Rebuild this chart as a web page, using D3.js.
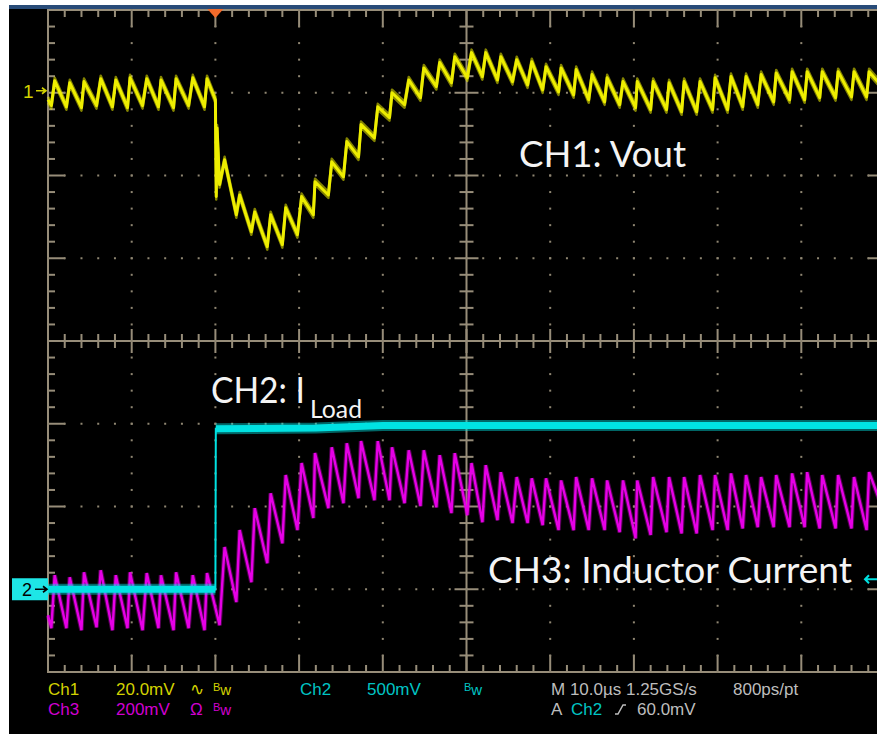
<!DOCTYPE html>
<html>
<head>
<meta charset="utf-8">
<script src="https://cdn.jsdelivr.net/npm/d3@7"></script>
<style>
  body { margin: 0; background: #fff; }
  svg { display: block; }
</style>
</head>
<body>
<svg id="scope"></svg>
<script>
// ---- data (time in us, values in mV) ----
var ch1Points = [
  [-20.0,-1.7],[-19.6,-3.1],[-19.2,2.9],[-17.8,-3.4],[-17.4,2.4],[-16.0,-3.6],[-15.7,2.7],[-14.2,-3.1],
  [-13.7,3.4],[-12.3,-3.4],[-11.9,3.1],[-10.5,-3.6],[-10.2,3.6],[-8.7,-3.1],[-8.2,3.4],[-6.8,-3.4],
  [-6.5,3.1],[-5.0,-3.6],[-4.7,3.4],[-3.2,-3.1],[-2.7,3.6],[-1.3,-3.4],[-1.0,3.4],
  [0.0,-1.7],[0.1,-25.1],[0.2,-8.5],[0.5,-22.2],[1.1,-16.2],[2.5,-29.5],[2.9,-24.7],[4.3,-33.6],
  [4.7,-28.8],[6.2,-37.2],[6.6,-29.5],[8.0,-36.7],[8.4,-27.8],[9.8,-34.3],[10.3,-25.1],[11.7,-29.5],
  [11.9,-21.5],[13.5,-24.7],[13.9,-16.7],[15.3,-20.3],[15.7,-11.8],[17.1,-15.5],[17.4,-7.7],[19.0,-10.9],
  [19.4,-3.4],[20.8,-6.0],[21.1,0.0],[22.6,-2.9],[23.1,3.1],[24.5,-1.2],[24.9,6.0],[26.4,1.5],
  [26.8,7.3],[28.2,2.4],[28.6,8.7],[30.1,3.6],[30.6,9.7],[31.9,3.9],[32.3,9.7],[33.7,3.1],
  [34.1,8.7],[35.5,2.7],[36.0,8.0],[37.3,1.9],[37.8,7.5],[39.1,0.7],[39.5,6.3],[41.0,0.2],
  [41.3,6.0],[42.8,-0.5],[43.1,5.6],[44.6,-1.7],[45.0,4.4],[46.5,-2.2],[46.8,3.6],[48.3,-2.9],
  [48.7,2.7],[50.2,-3.6],[50.4,2.7],[52.0,-4.1],[52.3,2.7],[53.9,-4.1],[54.2,2.4],[55.7,-4.6],
  [56.0,2.7],[57.5,-4.6],[57.9,2.7],[59.4,-4.1],[59.7,3.6],[61.2,-4.1],[61.6,3.9],[63.0,-3.4],
  [63.4,3.9],[64.8,-2.9],[65.2,4.4],[66.7,-2.2],[67.0,4.8],[68.6,-1.7],[68.9,5.1],[70.4,-1.7],
  [70.7,5.1],[72.2,-1.2],[72.5,5.1],[74.1,-1.2],[74.4,5.1],[76.0,-1.0],[76.3,5.1],[77.8,-1.0],
  [78.1,5.1],[80.0,0.7]
];

var ch2Points = [[-20, 0], [0, 0], [0.05, 970], [12, 975], [20, 990], [80, 990]];

var ch3Points = [
  [-20.0,-63],[-19.6,-94],[-19.2,34],[-17.8,-94],[-17.4,29],[-16.0,-99],[-15.7,41],[-14.2,-92],
  [-13.7,46],[-12.3,-99],[-11.9,34],[-10.5,-94],[-10.2,41],[-8.7,-99],[-8.2,39],[-6.8,-94],
  [-6.5,34],[-5.0,-99],[-4.7,41],[-3.2,-94],[-2.7,34],[-1.3,-99],[-1.0,39],[0.5,-87],
  [1.1,102],[2.5,-31],[2.9,143],[4.3,17],[4.7,196],[6.2,63],[6.6,232],[8.0,111],
  [8.4,276],[9.8,143],[10.3,305],[11.7,172],[11.9,329],[13.5,196],[13.9,343],[15.3,208],
  [15.7,353],[17.1,220],[17.4,358],[19.0,215],[19.4,358],[20.8,215],[21.1,343],[22.6,208],
  [23.1,336],[24.5,201],[24.9,336],[26.4,198],[26.8,324],[28.2,184],[28.6,329],[30.1,179],
  [30.6,305],[31.9,162],[32.3,300],[33.7,167],[34.1,283],[35.5,160],[36.0,271],[37.3,160],
  [37.8,268],[39.1,155],[39.5,268],[41.0,143],[41.3,263],[42.8,143],[43.1,271],[44.6,143],
  [45.0,268],[46.5,143],[46.8,263],[48.3,138],[48.7,263],[50.2,123],[50.4,263],[52.0,131],
  [52.3,271],[53.9,138],[54.2,271],[55.7,135],[56.0,271],[57.5,135],[57.9,276],[59.4,143],
  [59.7,276],[61.2,143],[61.6,280],[63.0,147],[63.4,276],[64.8,150],[65.2,271],[66.7,150],
  [67.0,276],[68.6,150],[68.9,280],[70.4,150],[70.7,283],[72.2,147],[72.5,276],[74.1,147],
  [74.4,276],[76.0,147],[76.3,271],[77.8,143],[78.1,283],[80.0,179]
];

// channel setup: volts per division and ground marker position (divisions from centre)
var ch1Setup = { perDiv: 20, offset: 3 };
var ch2Setup = { perDiv: 500, offset: -3 };
var ch3Setup = { perDiv: 200, offset: -3 };
var triggerLevel = 60; // mV on Ch2

var ch1Status = ["Ch1", "20.0mV", "\u223F", "Bw"];
var ch3Status = ["Ch3", "200mV", "\u03A9", "Bw"];
var ch2Status = ["Ch2", "500mV", "Bw"];
var timeStatus = ["M 10.0\u00B5s 1.25GS/s", "800ps/pt"];
var trigStatus = ["A", "Ch2", "60.0mV"];

// ---- drawing ----
var W = 877, H = 734;
var col = { grid: "#978d79", dot: "#8f8672", ch1: "#eeee00", ch2: "#00e2e2", ch3: "#e600e6",
            ch1Txt: "#d2d200", ch2Txt: "#00c4c4", ch3Txt: "#d000d0", grey: "#bdbdbd" };

var xScale = d3.scaleLinear().domain([-20, 80]).range([48, 885]);
var yScale = d3.scaleLinear().domain([-4, 4]).range([672, 10]);

function chanY(setup) {
  return function (v) { return yScale(setup.offset + v / setup.perDiv); };
}

var svg = d3.select("#scope").attr("width", W).attr("height", H);

svg.append("rect").attr("width", W).attr("height", H).attr("fill", "#fff");
svg.append("rect").attr("x", 9).attr("y", 5).attr("width", W - 9).attr("height", 4).attr("fill", "#284b78");
svg.append("rect").attr("x", 9).attr("y", 9).attr("width", W - 9).attr("height", H - 9).attr("fill", "#000");

// graticule
var grat = svg.append("g").attr("stroke", col.grid).attr("stroke-width", 2);
var majorT = d3.range(-20, 80.01, 10), minorT = d3.range(-20, 80.01, 2);
var majorV = d3.range(-4, 4.01, 1), minorV = d3.range(-4, 4.01, 0.2);
var x0 = xScale(-20), x1 = xScale(80), y0 = yScale(4), y1 = yScale(-4);
var xc = xScale(30), yc = yScale(0);

grat.append("rect").attr("x", x0).attr("y", y0).attr("width", x1 - x0).attr("height", y1 - y0)
  .attr("fill", "none");
grat.append("line").attr("x1", xc).attr("x2", xc).attr("y1", y0).attr("y2", y1);
grat.append("line").attr("x1", x0).attr("x2", x1).attr("y1", yc).attr("y2", yc);

function isMajor(v, step) { return Math.abs(v / step - Math.round(v / step)) < 1e-6; }

minorT.forEach(function (t) {
  var px = xScale(t), big = isMajor(t, 10);
  var len = big ? 17 : 7;
  grat.append("line").attr("x1", px).attr("x2", px).attr("y1", y0).attr("y2", y0 + len);
  grat.append("line").attr("x1", px).attr("x2", px).attr("y1", y1).attr("y2", y1 - len);
  var half = big ? 12 : 7;
  grat.append("line").attr("x1", px).attr("x2", px).attr("y1", yc - half).attr("y2", yc + half);
});
minorV.forEach(function (v) {
  var py = yScale(v), big = isMajor(v, 1);
  var len = big ? 17 : 7;
  grat.append("line").attr("x1", x0).attr("x2", x0 + len).attr("y1", py).attr("y2", py);
  grat.append("line").attr("x1", x1).attr("x2", x1 - len).attr("y1", py).attr("y2", py);
  var half = big ? 12 : 7;
  grat.append("line").attr("x1", xc - half).attr("x2", xc + half).attr("y1", py).attr("y2", py);
});

// dotted division lines
var dots = svg.append("g").attr("fill", col.dot);
majorT.filter(function (t) { return t > -20 && t < 80 && t !== 30; }).forEach(function (t) {
  minorV.forEach(function (v) {
    dots.append("rect").attr("x", xScale(t) - 1).attr("y", yScale(v) - 1).attr("width", 2).attr("height", 2);
  });
});
majorV.filter(function (v) { return v > -4 && v < 4 && v !== 0; }).forEach(function (v) {
  minorT.forEach(function (t) {
    dots.append("rect").attr("x", xScale(t) - 1).attr("y", yScale(v) - 1).attr("width", 2).attr("height", 2);
  });
});

// traces
function traceLine(setup) {
  var fy = chanY(setup);
  return d3.line().x(function (d) { return xScale(d[0]); }).y(function (d) { return fy(d[1]); });
}

var line3 = traceLine(ch3Setup);
svg.append("path").datum(ch3Points).attr("d", line3).attr("fill", "none")
  .attr("stroke", col.ch3).attr("stroke-width", 4.5).attr("stroke-opacity", 0.35);
svg.append("path").datum(ch3Points).attr("d", line3).attr("fill", "none")
  .attr("stroke", col.ch3).attr("stroke-width", 2.4);

// ch2: thin full trace + thick noisy band on the flat runs
var line2 = traceLine(ch2Setup);
var runs = [], cur = [ch2Points[0]];
for (var i = 1; i < ch2Points.length; i++) {
  if (Math.abs(ch2Points[i][1] - ch2Points[i - 1][1]) / ch2Setup.perDiv > 0.5) {
    runs.push(cur); cur = [];
  }
  cur.push(ch2Points[i]);
}
runs.push(cur);
svg.append("path").datum(ch2Points).attr("d", line2).attr("fill", "none")
  .attr("stroke", col.ch2).attr("stroke-width", 2);
runs.forEach(function (r) {
  svg.append("path").datum(r).attr("d", line2).attr("fill", "none")
    .attr("stroke", col.ch2).attr("stroke-width", 11).attr("stroke-opacity", 0.45);
  svg.append("path").datum(r).attr("d", line2).attr("fill", "none")
    .attr("stroke", col.ch2).attr("stroke-width", 7);
});

// ch1: persistence smear drawn as a few vertically shifted copies
var line1 = traceLine(ch1Setup);
[-3, 3].forEach(function (dy) {
  svg.append("path").datum(ch1Points).attr("d", line1).attr("fill", "none")
    .attr("transform", "translate(0," + dy + ")")
    .attr("stroke", col.ch1).attr("stroke-width", 2.5).attr("stroke-opacity", 0.55)
    .attr("stroke-linejoin", "round");
});
svg.append("path").datum(ch1Points).attr("d", line1).attr("fill", "none")
  .attr("stroke", col.ch1).attr("stroke-width", 3).attr("stroke-linejoin", "round");

// trigger position marker
var tx = xScale(0);
svg.append("path").attr("d", "M" + (tx - 8) + ",9L" + (tx + 8) + ",9L" + tx + ",18Z").attr("fill", "#f26a2a");

// channel ground markers
var mono = "Liberation Sans, Arial, sans-serif";
var r1 = chanY(ch1Setup)(0);
svg.append("text").attr("x", 23).attr("y", r1 + 5).text("1")
  .attr("font-family", mono).attr("font-size", "19px").attr("fill", col.ch1Txt);
svg.append("path").attr("d", "M36," + (r1 - 2) + "H46M42," + (r1 - 5) + "L46," + (r1 - 2) + "L42," + (r1 + 1))
  .attr("stroke", col.ch1Txt).attr("stroke-width", 1.6).attr("fill", "none");

var r2 = chanY(ch2Setup)(0);
svg.append("rect").attr("x", 12).attr("y", r2 - 11).attr("width", 36).attr("height", 22).attr("fill", "#1ee6e6");
svg.append("text").attr("x", 22).attr("y", r2 + 7).text("2")
  .attr("font-family", mono).attr("font-size", "18px").attr("fill", "#000");
svg.append("path").attr("d", "M35," + r2 + "H47M43," + (r2 - 3) + "L47," + r2 + "L43," + (r2 + 3))
  .attr("stroke", "#000").attr("stroke-width", 1.6).attr("fill", "none");

// trigger level marker (right side)
var rt = chanY(ch2Setup)(triggerLevel);
svg.append("path").attr("d", "M877," + rt + "H865M869," + (rt - 4) + "L865," + rt + "L869," + (rt + 4))
  .attr("stroke", col.ch2).attr("stroke-width", 2).attr("fill", "none");

// annotation labels
var big = "Lato, 'Open Sans', sans-serif";
function label(txt, x, y, size, len) {
  svg.append("text").attr("x", x).attr("y", y).text(txt)
    .attr("font-family", big).attr("font-size", size + "px").attr("fill", "#f4f4f4")
    .attr("textLength", len).attr("lengthAdjust", "spacingAndGlyphs");
}
label("CH1: Vout", 519, 167, 36, 167);
label("CH2: I", 211, 403, 36, 94);
label("Load", 310, 418, 25, 52);
label("CH3: Inductor Current", 488, 583, 36, 364);

// status bar
function status(txt, x, y, fill) {
  return svg.append("text").attr("x", x).attr("y", y).text(txt)
    .attr("font-family", mono).attr("font-size", "17px").attr("fill", fill);
}
function bw(x, y, fill) {
  var t = svg.append("text").attr("x", x).attr("y", y).attr("font-family", mono).attr("fill", fill);
  t.append("tspan").attr("font-size", "11px").attr("dy", -4).text("B");
  t.append("tspan").attr("font-size", "15px").attr("dy", 4).text("w");
}
var row1 = 695, row2 = 715, cols = [48, 116, 190, 213];
ch1Status.forEach(function (s, i) {
  if (s === "Bw") bw(cols[i], row1, col.ch1Txt); else status(s, cols[i], row1, col.ch1Txt);
});
ch3Status.forEach(function (s, i) {
  if (s === "Bw") bw(cols[i], row2, col.ch3Txt); else status(s, cols[i], row2, col.ch3Txt);
});
status(ch2Status[0], 300, row1, col.ch2Txt);
status(ch2Status[1], 367, row1, col.ch2Txt);
bw(464, row1, col.ch2Txt);
status(timeStatus[0], 551, row1, col.grey);
status(timeStatus[1], 733, row1, col.grey);
status(trigStatus[0], 551, row2, col.grey);
status(trigStatus[1], 571, row2, col.ch2Txt);
svg.append("path").attr("d", "M615," + (row2 - 1) + "h3l5,-9h3")
  .attr("stroke", col.grey).attr("stroke-width", 1.5).attr("fill", "none");
status(trigStatus[2], 637, row2, col.grey);
</script>
</body>
</html>
